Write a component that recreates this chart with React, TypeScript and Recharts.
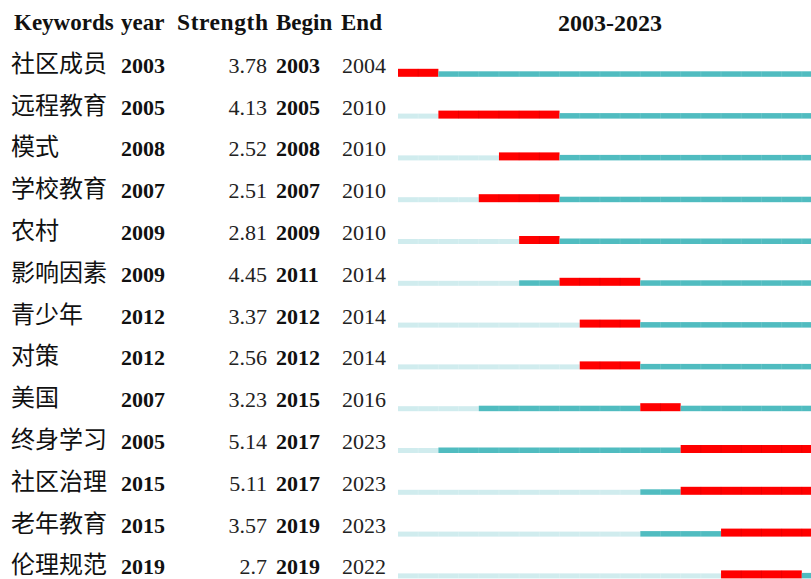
import React from 'react';
import { BarChart, Bar, XAxis, YAxis } from 'recharts';

const keywords = ['社区成员', '远程教育', '模式', '学校教育', '农村', '影响因素', '青少年', '对策', '美国', '终身学习', '社区治理', '老年教育', '伦理规范'];
const years = [2003, 2005, 2008, 2007, 2009, 2009, 2012, 2012, 2007, 2005, 2015, 2015, 2019];
const strengths = ['3.78', '4.13', '2.52', '2.51', '2.81', '4.45', '3.37', '2.56', '3.23', '5.14', '5.11', '3.57', '2.7'];
const begins = [2003, 2005, 2008, 2007, 2009, 2011, 2012, 2012, 2015, 2017, 2017, 2019, 2019];
const ends = [2004, 2010, 2010, 2010, 2010, 2014, 2014, 2014, 2016, 2023, 2023, 2023, 2022];
const firstYear = 2003;
const lastYear = 2023;
const headers = ['Keywords', 'year', 'Strength', 'Begin', 'End'];
const rangeTitle = '2003-2023';

const data = keywords.map((kw, i) => ({
  kw,
  idx: i,
  light: [firstYear, years[i]],
  teal1: [years[i], begins[i]],
  red: [begins[i], ends[i] + 1],
  teal2: [ends[i] + 1, lastYear + 1],
}));

const SERIF = '"Liberation Serif", "Times New Roman", serif';
const CJK = '"Noto Sans CJK SC", "Noto Sans", sans-serif';

const RowTick = (props: any) => {
  const { y, payload } = props;
  const i = payload.index;
  return (
    <g>
      <text x={11} y={y - 1} fontFamily={CJK} fontSize={24} fill="#111">{keywords[i]}</text>
      <text x={121} y={y} fontFamily={SERIF} fontSize={22} fontWeight="bold" fill="#111">{years[i]}</text>
      <text x={267} y={y} fontFamily={SERIF} fontSize={22} textAnchor="end" fill="#222">{strengths[i]}</text>
      <text x={276} y={y} fontFamily={SERIF} fontSize={22} fontWeight="bold" fill="#111">{begins[i]}</text>
      <text x={342} y={y} fontFamily={SERIF} fontSize={22} fill="#222">{ends[i]}</text>
    </g>
  );
};

const makeShape = (fill: string, h: number, divider: string) => (p: any) => {
  const { x, y, width, height } = p;
  if (!width || width <= 0.5) return <g />;
  const n = Math.round(width / 20.17);
  const step = n > 0 ? width / n : width;
  const top = y + height - h;
  const lines = [];
  for (let k = 1; k < n; k++) {
    lines.push(<line key={k} x1={x + k * step} x2={x + k * step} y1={top} y2={top + h} stroke={divider} strokeWidth={1} />);
  }
  return (
    <g>
      <rect x={x} y={top} width={width} height={h} fill={fill} />
      {lines}
    </g>
  );
};

export default function App() {
  return (
    <div style={{ position: 'absolute', left: 0, top: 0, width: 811, height: 579, overflow: 'hidden', background: '#fff' }}>
      <svg width={811} height={50} style={{ position: 'absolute', left: 0, top: 0 }}>
        <text x={14} y={30} fontFamily={SERIF} fontSize={23} fontWeight="bold" fill="#111">{headers[0]}</text>
        <text x={121} y={30} fontFamily={SERIF} fontSize={23} fontWeight="bold" fill="#111">{headers[1]}</text>
        <text x={268} y={30} fontFamily={SERIF} fontSize={23.5} fontWeight="bold" fill="#111" textAnchor="end" textLength={91} lengthAdjust="spacing">{headers[2]}</text>
        <text x={276} y={30} fontFamily={SERIF} fontSize={23} fontWeight="bold" fill="#111">{headers[3]}</text>
        <text x={341} y={30} fontFamily={SERIF} fontSize={23} fontWeight="bold" fill="#111">{headers[4]}</text>
        <text x={610} y={31} fontFamily={SERIF} fontSize={24} fontWeight="bold" fill="#111" textAnchor="middle">{rangeTitle}</text>
      </svg>
      <div style={{ position: 'absolute', left: 0, top: 0 }}>
        <BarChart
          width={822}
          height={600}
          data={data}
          layout="vertical"
          margin={{ top: 51.8, right: 0, bottom: 4.8, left: 0 }}
          barCategoryGap={0}
        >
          <XAxis type="number" domain={[firstYear, lastYear + 1]} hide allowDataOverflow />
          <YAxis yAxisId="label" type="category" dataKey="kw" width={398} axisLine={false} tickLine={false} tick={RowTick} interval={0} />
          <YAxis yAxisId="l" type="category" dataKey="kw" hide />
          <YAxis yAxisId="t1" type="category" dataKey="kw" hide />
          <YAxis yAxisId="r" type="category" dataKey="kw" hide />
          <YAxis yAxisId="t2" type="category" dataKey="kw" hide />
          <Bar yAxisId="l" dataKey="light" barSize={8} isAnimationActive={false} shape={makeShape('#D0ECEE', 5, 'rgba(255,255,255,0.2)')} />
          <Bar yAxisId="t1" dataKey="teal1" barSize={8} isAnimationActive={false} shape={makeShape('#50BCC0', 5.5, 'rgba(255,255,255,0.12)')} />
          <Bar yAxisId="r" dataKey="red" barSize={8} isAnimationActive={false} shape={makeShape('#FF0000', 8, 'rgba(140,0,0,0.18)')} />
          <Bar yAxisId="t2" dataKey="teal2" barSize={8} isAnimationActive={false} shape={makeShape('#50BCC0', 5.5, 'rgba(255,255,255,0.12)')} />
        </BarChart>
      </div>
    </div>
  );
}
